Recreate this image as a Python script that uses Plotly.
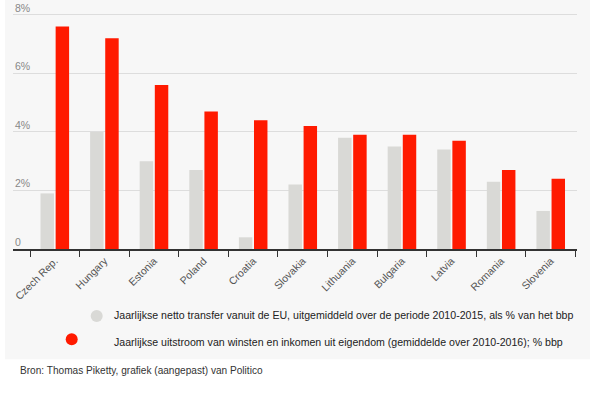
import plotly.graph_objects as go

countries = ["Czech Rep.", "Hungary", "Estonia", "Poland", "Croatia", "Slovakia",
             "Lithuania", "Bulgaria", "Latvia", "Romania", "Slovenia"]
eu_transfer = [1.9, 4.0, 3.0, 2.7, 0.4, 2.2, 3.8, 3.5, 3.4, 2.3, 1.3]
profit_outflow = [7.6, 7.2, 5.6, 4.7, 4.4, 4.2, 3.9, 3.9, 3.7, 2.7, 2.4]
y_ticks = [0, 2, 4, 6, 8]
y_ticktext = ["0", "2%", "4%", "6%", "8%"]
legend_labels = [
    "Jaarlijkse netto transfer vanuit de EU, uitgemiddeld over de periode 2010-2015, als % van het bbp",
    "Jaarlijkse uitstroom van winsten en inkomen uit eigendom (gemiddelde over 2010-2016); % bbp",
]
source_text = "Bron: Thomas Piketty, grafiek (aangepast) van Politico"

GRAY = "#d9d9d6"
RED = "#ff1a00"
BG = "#f7f7f7"
FONT = "Liberation Sans, Arial"

W, H = 592, 397
L, R = 13, 577
TOP, BOT = 9.1, 249.5
YMAX = 8.2


def px(x):
    return (x - L) / (R - L)


def py(y):
    return (BOT - y) / (BOT - TOP)


fig = go.Figure()
fig.add_trace(go.Bar(x=countries, y=eu_transfer, marker_color=GRAY,
                     marker_line_width=0, name=legend_labels[0], showlegend=False))
fig.add_trace(go.Bar(x=countries, y=profit_outflow, marker_color=RED,
                     marker_line_width=0, name=legend_labels[1], showlegend=False))

shapes = [
    dict(type="rect", xref="paper", yref="paper", x0=px(5), x1=px(590), y0=py(360), y1=py(0),
         fillcolor=BG, line_width=0, layer="below"),
    dict(type="circle", xref="paper", yref="paper", x0=px(90.7), x1=px(102.7), y0=py(322.7), y1=py(310.7),
         fillcolor=GRAY, line_width=0),
    dict(type="circle", xref="paper", yref="paper", x0=px(65.7), x1=px(77.7), y0=py(346), y1=py(334),
         fillcolor=RED, line_width=0),
]

annotations = [
    dict(text=legend_labels[0], xref="paper", yref="paper", x=px(112), y=py(315.5),
         xanchor="left", yanchor="middle", showarrow=False,
         font=dict(family=FONT, size=10.6, color="#222")),
    dict(text=legend_labels[1], xref="paper", yref="paper", x=px(112), y=py(342.5),
         xanchor="left", yanchor="middle", showarrow=False,
         font=dict(family=FONT, size=10.6, color="#222")),
    dict(text=source_text, xref="paper", yref="paper", x=px(18), y=py(371),
         xanchor="left", yanchor="middle", showarrow=False,
         font=dict(family=FONT, size=10.1, color="#333")),
]
for v, t in zip(y_ticks, y_ticktext):
    annotations.append(dict(text=t, xref="paper", yref="y", x=0, y=v, yshift=7,
                            xanchor="left", yanchor="middle", showarrow=False,
                            font=dict(family=FONT, size=10.5, color="#888")))

fig.update_layout(
    width=W, height=H,
    margin=dict(l=L, r=W - R, t=TOP, b=H - BOT, pad=0, autoexpand=False),
    paper_bgcolor="white",
    plot_bgcolor="rgba(0,0,0,0)",
    barmode="group", bargap=0.39, bargroupgap=0.11,
    shapes=shapes, annotations=annotations,
    showlegend=False,
    font=dict(family=FONT),
    xaxis=dict(
        range=[-0.843, 10.53], automargin=False,
        tickangle=-45, tickson="boundaries", ticks="outside", ticklen=6,
        tickcolor="#333", tickwidth=1,
        showline=True, linecolor="#333", linewidth=1.5,
        showgrid=False,
        tickfont=dict(size=10.5, color="#555"),
    ),
    yaxis=dict(
        range=[0, YMAX], automargin=False,
        tickvals=y_ticks, showticklabels=False,
        ticks="", showline=False, zeroline=False,
        showgrid=True, gridcolor="#dddddd", gridwidth=1,
    ),
)

fig.write_html("out.html", config={"displayModeBar": False})

with open("out.html", "r", encoding="utf-8") as f:
    html = f.read()
html = html.replace("<body>", '<body style="margin:0;padding:0;overflow:hidden">', 1)
with open("out.html", "w", encoding="utf-8") as f:
    f.write(html)
